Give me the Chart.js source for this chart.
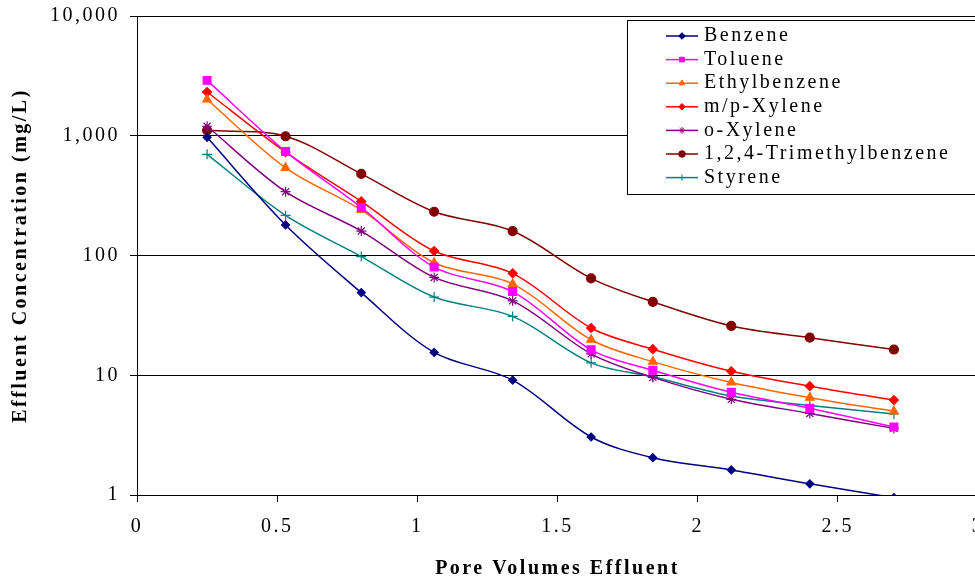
<!DOCTYPE html>
<html>
<head>
<meta charset="utf-8">
<script src="https://cdn.jsdelivr.net/npm/chart.js"></script>
<style>
  html, body { margin: 0; padding: 0; background: #fff; overflow: hidden; }
  #wrap { width: 990px; height: 579px; }
</style>
</head>
<body>
<div id="wrap"><canvas id="effluentChart"></canvas></div>
<script>
// pore volumes (x) shared by every series
const poreVolumes = [0.25, 0.53, 0.80, 1.06, 1.34, 1.62, 1.84, 2.12, 2.40, 2.70];

const benzene      = [970, 180, 49, 15.5, 9.1, 3.05, 2.05, 1.62, 1.24, 0.95];
const toluene      = [2900, 740, 252, 80, 50, 16.3, 11, 7.2, 5.3, 3.7];
const ethylbenzene = [2010, 540, 240, 87, 58, 19.8, 13, 8.7, 6.5, 5.0];
const mpXylene     = [2320, 730, 283, 109, 71, 24.8, 16.5, 10.8, 8.1, 6.2];
const oXylene      = [1200, 341, 160, 65.6, 41.8, 15.1, 9.6, 6.3, 4.8, 3.6];
const trimethyl    = [1110, 990, 480, 232, 160, 64.4, 41, 25.8, 20.6, 16.4];
const styrene      = [700, 216, 98, 45, 31, 12.7, 9.7, 6.7, 5.6, 4.75];

const yTickValues = [1, 10, 100, 1000, 10000];

const FONT = "'Liberation Serif', 'Times New Roman', serif";

function series(label, values, color, style, radius) {
    return {
        label: label,
        data: values.map((v, i) => ({ x: poreVolumes[i], y: v })),
        borderColor: color,
        backgroundColor: color,
        pointStyle: style,
        pointRadius: radius,
        pointBorderWidth: 1.2,
        borderWidth: 1.5,
        tension: 0.33,
        fill: false
    };
}

// legend drawn as a boxed key inside the plot, like the original
const boxLegend = {
    id: "boxLegend",
    afterDraw(chart) {
        const ctx = chart.ctx;
        ctx.save();
        ctx.fillStyle = "#fff";
        ctx.strokeStyle = "#000";
        ctx.lineWidth = 1;
        ctx.fillRect(627.5, 20.5, 400, 174);
        ctx.strokeRect(627.5, 20.5, 400, 174);
        chart.data.datasets.forEach((ds, i) => {
            const y = 36 + i * 23.6;
            ctx.strokeStyle = ds.borderColor;
            ctx.fillStyle = ds.borderColor;
            ctx.lineWidth = 1.5;
            ctx.beginPath();
            ctx.moveTo(666, y);
            ctx.lineTo(698, y);
            ctx.stroke();
            ctx.lineWidth = 1;
            Chart.helpers.drawPoint(ctx, {
                pointStyle: ds.pointStyle,
                radius: 3.3,
                borderWidth: 1,
                rotation: 0
            }, 682, y);
            ctx.fillStyle = "#000";
            ctx.font = "20px " + FONT;
            ctx.textAlign = "left";
            ctx.textBaseline = "middle";
            ctx.fillText(ds.label, 704, y);
        });
        ctx.restore();
    }
};

// spaced-out lettering of the original
const spacing = {
    id: "spacing",
    beforeDraw(chart) {
        chart.ctx.letterSpacing = "2.5px";
    }
};

const ctx = document.getElementById("effluentChart");

const chart = new Chart(ctx, {
    type: "line",
    data: {
        datasets: [
            series("Benzene", benzene, "#000080", "rectRot", 4),
            series("Toluene", toluene, "#FF00FF", "rect", 5.5),
            series("Ethylbenzene", ethylbenzene, "#FF6600", "triangle", 5),
            series("m/p-Xylene", mpXylene, "#FF0000", "rectRot", 4.5),
            series("o-Xylene", oXylene, "#800080", "star", 5),
            series("1,2,4-Trimethylbenzene", trimethyl, "#800000", "circle", 4.5),
            series("Styrene", styrene, "#008080", "cross", 5)
        ]
    },
    options: {
        responsive: true,
        maintainAspectRatio: false,
        animation: false,
        layout: {
            padding: { top: 16, right: 12, bottom: 0, left: 0 }
        },
        plugins: {
            legend: { display: false },
            tooltip: { enabled: false }
        },
        scales: {
            x: {
                type: "linear",
                position: "bottom",
                min: 0,
                max: 3,
                ticks: {
                    stepSize: 0.5,
                    color: "#000",
                    padding: 13,
                    maxRotation: 0,
                    font: { family: FONT, size: 20 },
                    callback: v => String(v)
                },
                grid: {
                    drawOnChartArea: false,
                    drawTicks: true,
                    tickLength: 7,
                    color: "#000"
                },
                border: { color: "#000", width: 1 },
                title: {
                    display: true,
                    text: "Pore Volumes Effluent",
                    color: "#000",
                    padding: { top: 0, bottom: 0 },
                    font: { family: FONT, size: 20, weight: "bold", lineHeight: 1 }
                },
                afterFit(scale) {
                    scale.height = 84;
                    scale.paddingLeft = 0;
                    scale.paddingRight = 0;
                }
            },
            y: {
                type: "logarithmic",
                min: 1,
                max: 10000,
                afterBuildTicks(scale) {
                    scale.ticks = yTickValues.map(v => ({ value: v }));
                },
                ticks: {
                    color: "#000",
                    padding: 10,
                    font: { family: FONT, size: 20 },
                    callback: v => Number(v).toLocaleString("en-US")
                },
                grid: {
                    color: "#000",
                    lineWidth: 1,
                    drawTicks: true,
                    tickLength: 7
                },
                border: { color: "#000", width: 1 },
                title: {
                    display: true,
                    text: "Effluent Concentration (mg/L)",
                    color: "#000",
                    padding: { top: 11, bottom: 0 },
                    font: { family: FONT, size: 20, weight: "bold", lineHeight: 1 }
                },
                afterFit(scale) {
                    scale.width = 137;
                    scale.paddingTop = 0;
                    scale.paddingBottom = 0;
                }
            }
        }
    },
    plugins: [spacing, boxLegend]
});
</script>
</body>
</html>
